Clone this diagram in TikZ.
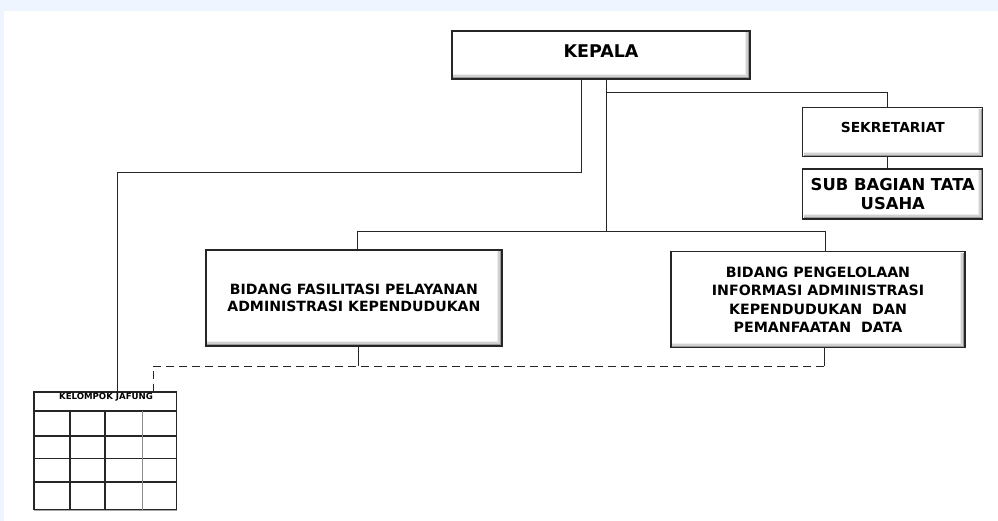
\documentclass[tikz,border=0pt]{standalone}
\usepackage{fontspec}
\setmainfont{DejaVu Sans}
\definecolor{bgc}{RGB}{238,245,254}
\begin{document}
\begin{tikzpicture}[x=1pt,y=-1pt,
  orgbox/.style={draw=black!85, line width=1.3pt, fill=white, inner sep=0pt, align=center,
    font=\bfseries,
    path picture={
      \draw[black!40, line width=1.6pt]
      ([xshift=1pt,yshift=1.2pt]path picture bounding box.south west) --
      ([xshift=-1.2pt,yshift=1.2pt]path picture bounding box.south east) --
      ([xshift=-1.2pt,yshift=-1pt]path picture bounding box.north east);
      \draw[black!18, line width=1.8pt]
      ([xshift=1pt,yshift=2.8pt]path picture bounding box.south west) --
      ([xshift=-2.8pt,yshift=2.8pt]path picture bounding box.south east) --
      ([xshift=-2.8pt,yshift=-1pt]path picture bounding box.north east);
      \draw[black!7, line width=1.6pt]
      ([xshift=1pt,yshift=4.4pt]path picture bounding box.south west) --
      ([xshift=-4.4pt,yshift=4.4pt]path picture bounding box.south east) --
      ([xshift=-4.4pt,yshift=-1pt]path picture bounding box.north east);}},
  conn/.style={draw=black!85, line width=0.9pt},
  dconn/.style={draw=black!85, line width=0.9pt, dash pattern=on 8pt off 5pt},
  tbl/.style={draw=black!85, line width=1.3pt}]
\useasboundingbox (0,0) rectangle (998,521);
\fill[bgc] (0,0) rectangle (998,521);
\fill[white] (4,11) rectangle (998,521);

% boxes
\node[orgbox, minimum width=298pt, minimum height=48pt] (kepala) at (601,55)
  {\raisebox{8pt}{\fontsize{17.5}{20}\selectfont KEPALA}};
\node[orgbox, minimum width=180pt, minimum height=49pt] (sekre) at (892.8,132.3)
  {\raisebox{10pt}{\fontsize{13.8}{16}\selectfont SEKRETARIAT}};
\node[orgbox, minimum width=180pt, minimum height=50pt] (subbag) at (892.8,194)
  {\raisebox{-2pt}{\parbox{178pt}{\centering\fontsize{16.4}{19}\selectfont SUB BAGIAN TATA\\USAHA}}};
\node[orgbox, minimum width=296pt, minimum height=96pt] (fasil) at (353.9,298)
  {\raisebox{-7.5pt}{\parbox{290pt}{\centering\fontsize{14.1}{17.6}\selectfont BIDANG FASILITASI PELAYANAN\\ADMINISTRASI KEPENDUDUKAN}}};
\node[orgbox, minimum width=294pt, minimum height=96pt] (kelola) at (818,299.8)
  {\raisebox{6.5pt}{\parbox{290pt}{\centering\fontsize{14.2}{18.4}\selectfont BIDANG PENGELOLAAN\\INFORMASI ADMINISTRASI\\KEPENDUDUKAN\ \ DAN\\PEMANFAATAN\ \ DATA}}};

% table KELOMPOK JAFUNG
\node[draw=black!85, line width=1.2pt, fill=white, minimum width=142.7pt, minimum height=117.7pt, inner sep=0pt] (jafung) at (105.35,450.85) {};
\draw[black!35, line width=1.5pt] (34,510.7) -- (177,510.7);
\draw[tbl] (34,411) -- (176.7,411);
\draw[tbl] (34,436) -- (176.7,436);
\draw[tbl] (34,458.3) -- (176.7,458.3);
\draw[tbl] (34,482) -- (176.7,482);
\draw[tbl] (70,411) -- (70,509.7);
\draw[tbl] (105,411) -- (105,509.7);
\draw[black!45, line width=1.2pt] (142.3,411) -- (142.3,509.7);
\node[font=\bfseries\fontsize{8.6}{10}\selectfont, inner sep=0pt] (jafungT) at (106,397.5) {KELOMPOK JAFUNG};

% connectors
\draw[conn] ([xshift=-20pt]kepala.south) |- ([xshift=12.4pt]jafung.north |- 0,172) -- ([xshift=12.4pt]jafung.north);
\draw[conn] ([xshift=5pt]kepala.south) -- ([xshift=5pt]kepala.south |- 0,231);
\draw[conn] ([xshift=3.8pt]fasil.north |- 0,231) -- ([xshift=7.7pt]kelola.north |- 0,231);
\draw[conn] ([xshift=3.8pt]fasil.north |- 0,231) -- ([xshift=3.8pt]fasil.north);
\draw[conn] ([xshift=7.7pt]kelola.north |- 0,231) -- ([xshift=7.7pt]kelola.north);
\draw[conn] ([xshift=5pt]kepala.south |- 0,92) -| ([xshift=-5.8pt]sekre.north);
\draw[conn] ([xshift=-5.8pt]sekre.south) -- ([xshift=-5.8pt]subbag.north);
\draw[conn] ([xshift=5pt]fasil.south) -- ([xshift=5pt]fasil.south |- 0,366);
\draw[conn] ([xshift=6pt]kelola.south) -- ([xshift=6pt]kelola.south |- 0,366);
\draw[dconn] ([xshift=6pt]kelola.south |- 0,366) -| ([xshift=48pt]jafung.north);
\end{tikzpicture}
\end{document}
